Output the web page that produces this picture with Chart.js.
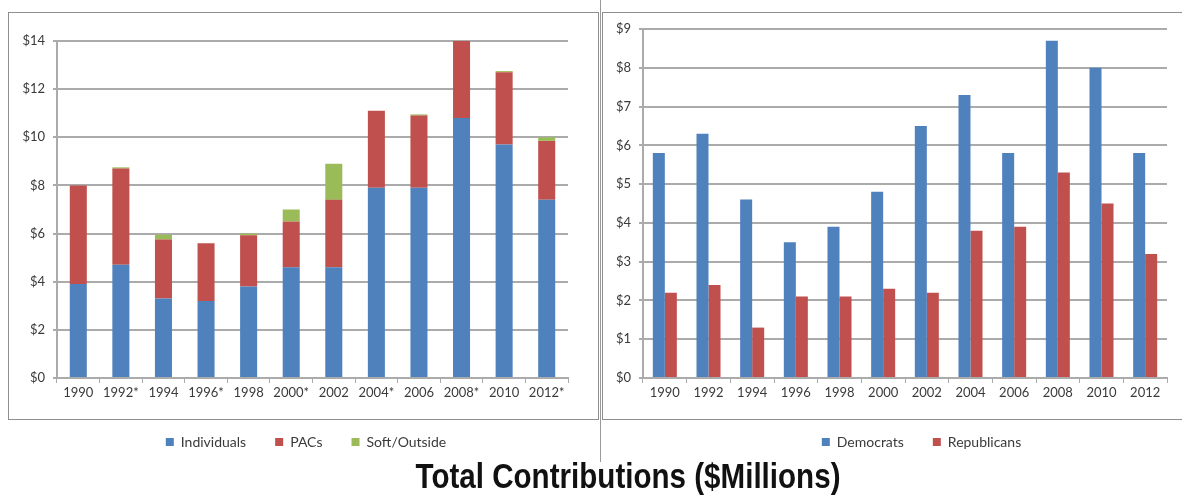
<!DOCTYPE html>
<html>
<head>
<meta charset="utf-8">
<script src="https://cdn.jsdelivr.net/npm/chart.js@4"></script>
<style>
  html, body { margin: 0; padding: 0; background: #fff; }
  body { width: 1182px; height: 496px; position: relative; overflow: hidden; }
  .frame { position: absolute; border: 1px solid #8e8e8e; }
  #leftFrame { left: 8px; top: 12px; width: 589px; height: 406px; }
  #rightFrame { left: 602px; top: 12px; width: 590px; height: 406px; }
  #sep { position: absolute; left: 600px; top: 0; width: 1px; height: 462px; background: #9a9a9a; }
  .wrap { position: absolute; top: 0; height: 459px; }
  #leftWrap { left: 0; width: 600px; }
  #rightWrap { left: 600px; width: 582px; }
  #title {
    position: absolute; left: 0; width: 1256px; top: 456px; text-align: center;
    font-family: "Liberation Sans", Arial, sans-serif;
    font-weight: bold; font-size: 35px; color: #111;
    transform: scaleX(0.845); transform-origin: 628px 0;
  }
</style>
</head>
<body>
<div class="frame" id="leftFrame"></div>
<div class="frame" id="rightFrame"></div>
<div id="sep"></div>
<div class="wrap" id="leftWrap"><canvas id="mixChart"></canvas></div>
<div class="wrap" id="rightWrap"><canvas id="partyChart"></canvas></div>
<div id="title">Total Contributions ($Millions)</div>

<script>
// Left chart: contributions by source (stacked)
const mixYears = ['1990', '1992*', '1994', '1996*', '1998', '2000*', '2002', '2004*', '2006', '2008*', '2010', '2012*'];
const individuals = [3.9, 4.7, 3.3, 3.2, 3.8, 4.6, 4.6, 7.9, 7.9, 10.8, 9.7, 7.4];
const pacs = [4.1, 4.0, 2.45, 2.4, 2.13, 1.9, 2.8, 3.2, 3.0, 3.2, 3.0, 2.45];
const softOutside = [0, 0.05, 0.2, 0, 0.07, 0.5, 1.5, 0, 0.05, 0, 0.05, 0.15];

// Right chart: contributions by party
const partyYears = ['1990', '1992', '1994', '1996', '1998', '2000', '2002', '2004', '2006', '2008', '2010', '2012'];
const democrats = [5.8, 6.3, 4.6, 3.5, 3.9, 4.8, 6.5, 7.3, 5.8, 8.7, 8.0, 5.8];
const republicans = [2.2, 2.4, 1.3, 2.1, 2.1, 2.3, 2.2, 3.8, 3.9, 5.3, 4.5, 3.2];

const BLUE = '#4f81bd';
const RED = '#c0504d';
const GREEN = '#9bbb59';
const GRID = '#ababab';
const TEXT = '#3a3a3a';

Chart.defaults.font.family = 'Lato, "Open Sans", sans-serif';
Chart.defaults.font.size = 13;
Chart.defaults.color = TEXT;
Chart.defaults.animation = false;

// nudge the legend sideways, Excel doesn't center it on the canvas
function legendShift(dx) {
  return {
    id: 'legendShift',
    afterLayout(chart) {
      chart.legend.left += dx;
      chart.legend.right += dx;
    }
  };
}

function baseOptions(axisWidth, yMax, step, pad, stacked) {
  return {
    responsive: true,
    maintainAspectRatio: false,
    layout: { padding: pad },
    plugins: {
      legend: {
        position: 'bottom',
        labels: { boxWidth: 8, boxHeight: 8, padding: 29, font: { size: 14 } }
      },
      tooltip: { enabled: false }
    },
    scales: {
      x: {
        stacked: stacked,
        grid: { display: true, drawOnChartArea: false, drawTicks: true, tickLength: 5, color: GRID, offset: true },
        border: { display: true, color: GRID, width: 2 },
        ticks: { padding: 2, maxRotation: 0, autoSkip: false },
        afterFit(scale) { scale.height = 28; }
      },
      y: {
        stacked: stacked,
        min: 0,
        max: yMax,
        grid: { color: GRID, lineWidth: 2, drawTicks: true, tickLength: 4 },
        border: { display: true, color: GRID, width: 2 },
        ticks: { stepSize: step, padding: 8, callback: (v) => '$' + v },
        afterFit(scale) { scale.width = axisWidth; }
      }
    }
  };
}

new Chart(document.getElementById('mixChart'), {
  type: 'bar',
  data: {
    labels: mixYears,
    datasets: [
      { label: 'Individuals', data: individuals, backgroundColor: BLUE, barPercentage: 0.4, categoryPercentage: 1 },
      { label: 'PACs', data: pacs, backgroundColor: RED, barPercentage: 0.4, categoryPercentage: 1 },
      { label: 'Soft/Outside', data: softOutside, backgroundColor: GREEN, barPercentage: 0.4, categoryPercentage: 1 }
    ]
  },
  options: baseOptions(57, 14, 2, { top: 41, right: 32, left: 0, bottom: 0 }, true),
  plugins: [legendShift(22)]
});

new Chart(document.getElementById('partyChart'), {
  type: 'bar',
  data: {
    labels: partyYears,
    datasets: [
      { label: 'Democrats', data: democrats, backgroundColor: BLUE, barPercentage: 1, categoryPercentage: 0.55 },
      { label: 'Republicans', data: republicans, backgroundColor: RED, barPercentage: 1, categoryPercentage: 0.55 }
    ]
  },
  options: baseOptions(43, 9, 1, { top: 29, right: 15, left: 0, bottom: 0 }, false),
  plugins: [legendShift(38)]
});
</script>
</body>
</html>
